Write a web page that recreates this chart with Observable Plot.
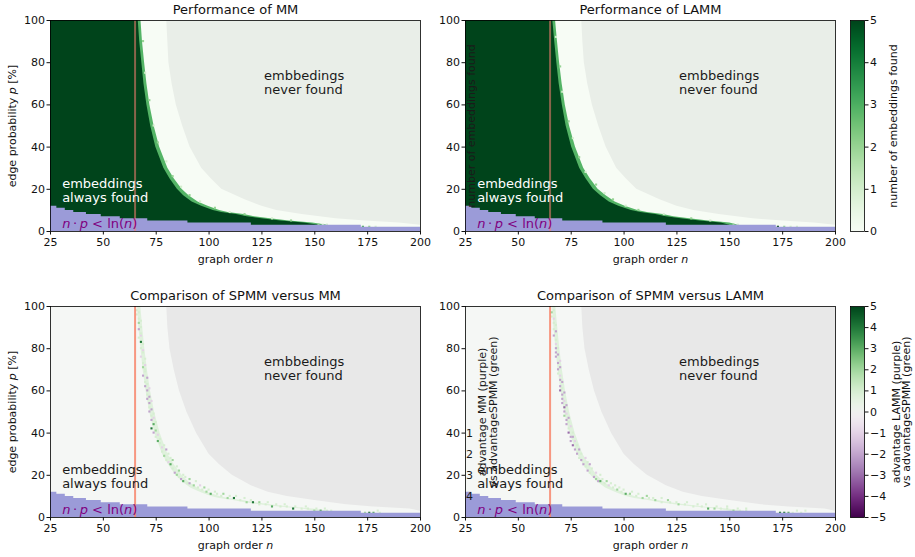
<!DOCTYPE html>
<html>
<head>
<meta charset="utf-8">
<script src="https://cdn.jsdelivr.net/npm/d3@7"></script>
<script src="https://cdn.jsdelivr.net/npm/@observablehq/plot@0.6"></script>
<style>
  html, body { margin: 0; padding: 0; background: #fff; }
  #chart { position: relative; width: 915px; height: 557px; overflow: hidden; font-family: "DejaVu Sans", sans-serif; }
  #chart svg { position: absolute; max-width: none; }
</style>
</head>
<body>
<div id="chart"></div>
<script>
// ---------------- data ----------------
const panelTitles = ["Performance of MM", "Performance of LAMM", "Comparison of SPMM versus MM", "Comparison of SPMM versus LAMM"];
const xTicks = [25, 50, 75, 100, 125, 150, 175, 200];
const yTicks = [0, 20, 40, 60, 80, 100];
const nDomain = [25, 200];
const pDomain = [0, 100];
const thresholdN = [65];

// region n·p < ln(n) (steps)
const blueStartN = [25, 28, 32, 36, 42, 49, 58, 71, 90, 120, 172];
const blueEndN   = [28, 32, 36, 42, 49, 58, 71, 90, 120, 172, 200];
const blueTopP   = [12, 11, 10, 9, 8, 7, 6, 5, 4, 3, 2];

// edge of "embeddings always found" (5 of 5) per edge probability
const darkP      = [2, 3, 4, 5, 6, 7, 8, 9, 10, 12, 14, 17, 20, 25, 30, 40, 50, 60, 70, 80, 90, 100];
const mmDarkN    = [152, 152, 145, 134, 125, 118, 113, 106, 102, 96.5, 92, 88, 85, 81.5, 78.6, 74.8, 72.4, 70.6, 69.2, 68.2, 67.2, 66.5];
const mmFringeN  = [156, 156, 149, 138, 129, 121.5, 116.5, 109, 105, 99.5, 94.8, 90.5, 87.2, 83.5, 80.5, 76.6, 74, 72, 70.6, 69.5, 68.5, 67.8];
const lammDarkN  = [150, 150, 146, 136, 127, 120, 115, 108, 103.5, 97.5, 93, 89, 85.5, 82, 79, 75.2, 72.6, 70.8, 69.3, 68.2, 67.2, 66.3];
const lammFringeN= [154, 154, 150, 140, 131, 123.5, 118.5, 111, 106.5, 100.5, 95.8, 91.5, 87.7, 84, 80.9, 77, 74.2, 72.2, 70.7, 69.5, 68.5, 67.6];
// light band of differences in the comparison panels
const cmpBandLo  = [150, 150, 144, 133, 124, 117, 111.5, 105, 101, 95.8, 91.3, 87.3, 84.3, 80.8, 78, 74.3, 71.9, 70.2, 68.8, 67.8, 66.8, 66.2];
const cmpBandHi  = [157, 157, 149, 138, 129, 122, 116, 109, 105, 99, 94.5, 90.3, 87.2, 83.5, 80.5, 76.8, 74.2, 72.3, 70.8, 69.6, 68.6, 67.7];

// edge of the region where runs were made (beyond: never found)
const whiteP     = [0, 3, 4, 5, 6, 8, 10, 12, 15, 20, 25, 30, 40, 50, 60, 70, 80, 90, 100];
const mmWhiteN   = [200, 200, 190, 174, 160, 144, 132, 125, 117, 106, 101, 96.5, 91, 87.5, 84.5, 82.5, 81, 80.5, 80];
const lammWhiteN = [200, 200, 190, 175, 161, 145, 133, 125, 117, 106, 101, 96.5, 91.5, 88, 85, 82.8, 81.2, 80.5, 80];
const cmpWhiteN  = [200, 200, 195, 178, 165, 150, 137, 128, 120, 111, 105, 100, 94, 89.5, 86, 83.5, 81.5, 80.5, 80];

// isolated cells [n, p, value]
const mmSpeck   = [[152,3,2],[154,3,1],[156,3,1],[173,2,3],[176,2,2],[179,2,1],
  [69,90,2],[70,75,1],[72,62,2],[74,50,1],[76,42,2],[80,33,1],[83,26,2],[87,21,1],[91,17,2],[96,14,1],[103,11,2],[110,9,1],[117,8,2],[130,6,1],[139,5,2]];
const lammSpeck = [[152,3,2],[154,3,1],[173,2,5],[176,2,2],[179,2,1],[182,2,1],
  [68,92,1],[70,78,2],[71,66,1],[74,52,2],[76,44,1],[79,35,2],[82,28,1],[87,22,2],[91,18,1],[95,15,2],[101,12,1],[107,10,2],[119,8,1],[132,6,2],[141,5,1]];
const cmpMMCells = [
  [66,98,1],[66,96,1],[67,94,1],[67,92,2],[67,89,-2],[68,87,1],[67,85,1],[68,83,4],[68,80,1],[69,78,1],
  [68,76,-1],[69,73,1],[69,71,2],[70,69,1],[69,67,-2],[70,64,1],[70,62,-2],[71,60,-2],[71,58,1],[71,56,-2],
  [72,54,-2],[72,52,1],[72,50,-2],[73,48,1],[73,46,-2],[74,44,3],[73,42,4],[74,40,-2],[75,38,1],[76,36,3],
  [77,35,1],[78,33,-1],[78,31,1],[79,29,2],[80,27,1],[81,26,-1],[82,25,3],[83,23,1],[84,21,-2],[85,20,2],
  [86,19,1],[87,18,-2],[88,17,3],[90,16,1],[91,16,-2],[93,15,2],[95,14,1],[97,13,1],[99,12,2],[101,11,3],
  [104,11,1],[106,10,1],[109,9,2],[112,9,4],[115,8,1],[118,7,2],[121,7,4],[124,6,1],[127,6,1],[130,5,3],
  [134,5,1],[137,5,1],[140,4,4],[144,4,1],[147,4,1],[150,3,2],[153,3,3],[156,3,1],[174,2,2],[176,2,4],[178,2,3],[181,2,1]
];
const cmpMMExtra = [
  [67,97,1],[68,93,1],[68,90,1],[68,86,-1],[69,82,1],[69,79,-1],[70,75,1],[70,72,-1],[70,70,1],[71,66,-2],
  [71,63,1],[72,61,-1],[72,57,-2],[73,55,-1],[73,51,-2],[74,49,1],[74,47,-1],[75,45,1],[75,41,2],[76,39,-1],
  [77,37,1],[79,34,1],[80,32,-2],[81,30,1],[82,28,1],[83,27,2],[85,24,1],[86,22,2],[88,20,1],[89,19,1],
  [91,18,2],[94,17,1],[96,15,-1],[98,14,2],[100,13,1],[103,12,1],[107,11,2],[110,10,1],[113,10,1],[117,9,1],
  [120,8,1],[124,7,2],[128,7,1],[132,6,1],[136,6,1],[141,5,1],[146,5,1],[151,4,1],[155,4,1],[158,3,1],[180,3,1]
];
const cmpLAMMCells = [
  [66,97,2],[66,95,1],[67,92,1],[67,89,1],[67,86,-2],[68,84,1],[68,80,-2],[68,78,-2],[68,76,-2],[69,73,-2],
  [69,70,-2],[69,68,1],[70,65,-2],[70,62,-2],[70,60,-3],[71,58,-2],[71,56,-2],[71,54,-2],[72,52,-3],[72,50,-2],
  [72,48,2],[73,46,-2],[73,44,-2],[74,42,1],[74,40,-3],[75,38,-2],[75,36,-2],[76,34,-3],[77,32,-2],[78,30,-2],
  [79,28,1],[80,27,-2],[81,25,-2],[82,24,1],[83,22,-2],[84,21,1],[86,19,-2],[87,18,2],[88,17,-2],[89,17,3],
  [91,16,1],[93,15,-1],[95,14,1],[97,13,2],[99,12,1],[101,11,3],[103,11,2],[106,10,1],[109,9,2],[112,9,1],
  [115,8,2],[118,7,1],[122,7,1],[126,6,2],[129,6,1],[133,5,1],[137,5,1],[140,4,3],[143,4,2],[146,4,1],
  [149,4,1],[152,3,2],[155,3,1],[158,3,1],[174,2,4],[176,2,4],[178,2,3],[180,2,1],[184,2,1]
];
const cmpLAMMExtra = [
  [67,98,1],[67,94,-1],[68,91,1],[68,88,-2],[68,82,-1],[69,80,1],[69,77,-2],[70,74,-1],[70,71,-2],[70,67,-1],
  [71,64,-2],[71,61,1],[72,59,-2],[72,55,-1],[73,53,-2],[73,49,-1],[74,47,-2],[74,45,1],[75,43,-1],[76,40,1],
  [76,38,-2],[77,36,-1],[78,34,1],[79,32,-2],[80,30,1],[82,28,-1],[83,26,1],[84,25,-2],[85,23,1],[87,21,-1],
  [89,20,1],[90,18,1],[92,17,2],[94,16,1],[96,15,1],[98,14,1],[100,13,1],[104,12,1],[107,11,1],[111,10,2],
  [114,9,1],[118,9,1],[121,8,2],[125,7,1],[130,7,1],[135,6,1],[139,6,1],[144,5,1],[149,5,1],[154,4,1],
  [158,4,1],[182,3,1],[186,3,1]
];

// colorbars
const cbPerfTicks = [0, 1, 2, 3, 4, 5];
const cbCmpTicks = [-5, -4, -3, -2, -1, 0, 1, 2, 3, 4, 5];
const cbPerfLabel = "number of embeddings found";
const cbCmpLabel = "advantage LAMM (purple)\nvs advantageSPMM (green)";
// stray labels in the right panels
const strayPerfLabel = "number of embeddings found";
const strayCmpLabel = "advantage MM (purple)\nvs advantageSPMM (green)";
const strayDigits = ["1", "2", "3", "4"];
const strayDigitP = [40, 30, 20, 10];

// ---------------- drawing ----------------
const container = document.getElementById("chart");
const baseStyle = {fontFamily: "DejaVu Sans, sans-serif", fontSize: "11px", color: "#111", background: "transparent", overflow: "visible"};

function italicize(svg) {
  d3.select(svg).selectAll("text, tspan").each(function () {
    if (this.children.length) return;
    const s = this.textContent;
    if (!s.includes("{")) return;
    const parts = s.split(/(\{[^}]*\})/);
    this.textContent = "";
    for (const part of parts) {
      if (!part) continue;
      const t = document.createElementNS("http://www.w3.org/2000/svg", "tspan");
      if (part.startsWith("{")) { t.setAttribute("font-style", "italic"); t.textContent = part.slice(1, -1); }
      else t.textContent = part;
      this.appendChild(t);
    }
  });
}

function place(svg, left, top) {
  svg.style.left = left + "px";
  svg.style.top = top + "px";
  italicize(svg);
  container.appendChild(svg);
}

const blueStep = blueStartN.map((n, i) => ({n, p: blueTopP[i]}))
  .concat([{n: blueEndN[blueEndN.length - 1], p: blueTopP[blueTopP.length - 1]}]);
const rows = (ps, ns) => ps.map((p, i) => ({p, n: ns[i]}));
const cells = arr => arr.map(([n, p, v]) => ({n, p, v}));

function panel(cfg) {
  const perf = cfg.kind === "perf";
  const marks = [
    Plot.frame({fill: perf ? "#e9eee8" : "#e8e8e8"}),
    Plot.areaX(rows(whiteP, cfg.whiteN), {y: "p", x1: nDomain[0], x2: "n", fill: perf ? "#f7fcf5" : "#f5f7f5"})
  ];
  if (perf) {
    marks.push(Plot.areaX(rows(darkP, cfg.fringeN), {y: "p", x1: nDomain[0], x2: "n", fill: d3.interpolateGreens(0.58)}));
    marks.push(Plot.areaX(rows(darkP, cfg.darkN), {y: "p", x1: nDomain[0], x2: "n", fill: d3.interpolateGreens(1)}));
  } else {
    marks.push(Plot.areaX(darkP.map((p, i) => ({p, lo: cmpBandLo[i], hi: cmpBandHi[i]})),
      {y: "p", x1: "lo", x2: "hi", fill: d3.interpolatePRGn(0.6), fillOpacity: 0.7}));
  }
  for (const arr of cfg.cells) {
    marks.push(Plot.rect(cells(arr), {x1: d => d.n - 0.5, x2: d => d.n + 0.5, y1: d => d.p - 0.5, y2: d => d.p + 0.5, fill: "v"}));
  }
  marks.push(
    Plot.areaY(blueStep, {x: "n", y: "p", curve: "step-after", fill: "#9b9bd8"}),
    Plot.ruleX(thresholdN, {stroke: perf ? "#fa8072" : "#f7866c", strokeWidth: 2, strokeOpacity: perf ? 0.55 : 0.85}),
    Plot.text(["embeddings\nalways found"], {x: 30.5, y: 19.4, text: d => d, textAnchor: "start", lineAnchor: "middle", lineHeight: 1.08, fontSize: 13, fill: perf ? "#ffffff" : "#1a1a1a"}),
    Plot.text(["embbedings\nnever found"], {x: 126, y: 70.4, text: d => d, textAnchor: "start", lineAnchor: "middle", lineHeight: 1.08, fontSize: 13, fill: "#1a1a1a"}),
    Plot.text(["{n}\u2009·\u2009{p} < ln({n})"], {x: 30.5, y: 3.6, text: d => d, textAnchor: "start", lineAnchor: "middle", fontSize: 13, fill: "#800080"}),
    Plot.text([cfg.title], {frameAnchor: "top", dy: -11, text: d => d, textAnchor: "middle", lineAnchor: "middle", fontSize: 13, fill: "#111"}),
    Plot.text(["graph order {n}"], {frameAnchor: "bottom", dy: 27.5, text: d => d, textAnchor: "middle", lineAnchor: "middle", fontSize: 11, fill: "#111"}),
    Plot.frame({stroke: "#000", strokeWidth: 0.8}),
    Plot.axisX({ticks: xTicks, tickSize: 3.5, tickPadding: 3, fontSize: 11, label: null}),
    Plot.axisY({ticks: yTicks, tickSize: 3.5, tickPadding: 2, fontSize: 11, label: null})
  );
  if (cfg.ylabel) marks.push(Plot.text(["edge probability {p} [%]"], {frameAnchor: "left", dx: -38, rotate: -90, text: d => d, textAnchor: "middle", lineAnchor: "middle", fontSize: 11, fill: "#111"}));
  if (cfg.stray === "perf") marks.push(Plot.text([strayPerfLabel], {frameAnchor: "left", dx: 6, rotate: -90, text: d => d, textAnchor: "middle", lineAnchor: "middle", fontSize: 11, fill: "#1a1a1a"}));
  if (cfg.stray === "cmp") {
    marks.push(Plot.text([strayCmpLabel], {frameAnchor: "left", dx: 22.5, rotate: -90, text: d => d, textAnchor: "middle", lineAnchor: "middle", lineHeight: 0.95, fontSize: 11, fill: "#1a1a1a"}));
    marks.push(Plot.text(strayDigits.map((t, i) => ({t, p: strayDigitP[i]})), {y: "p", text: "t", frameAnchor: "left", dx: 0.5, textAnchor: "start", lineAnchor: "middle", fontSize: 11, fill: "#1a1a1a"}));
  }
  return Plot.plot({
    width: 440, height: cfg.height,
    marginLeft: 50, marginRight: 20, marginTop: cfg.marginTop, marginBottom: cfg.marginBottom,
    x: {domain: nDomain}, y: {domain: pDomain},
    color: perf ? {type: "linear", scheme: "greens", domain: [0, 5]} : {type: "linear", scheme: "prgn", domain: [-5, 5]},
    style: baseStyle,
    marks
  });
}

function colorbar(cfg) {
  const lo = cfg.ticks[0], hi = cfg.ticks[cfg.ticks.length - 1];
  return Plot.plot({
    width: 75, height: cfg.height,
    marginLeft: 10, marginRight: 51, marginTop: cfg.marginTop, marginBottom: cfg.marginBottom,
    x: {domain: [0, 1], axis: null},
    y: {domain: [lo, hi]},
    color: {type: "linear", scheme: cfg.scheme, domain: [lo, hi]},
    style: baseStyle,
    marks: [
      Plot.raster({fill: (x, y) => y, x1: 0, x2: 1, y1: lo, y2: hi, pixelSize: 1}),
      Plot.frame({stroke: "#000", strokeWidth: 0.8}),
      Plot.axisY({anchor: "right", ticks: cfg.ticks, tickSize: 3.5, tickPadding: 2, fontSize: 11, label: null, tickFormat: d3.format("d")}),
      Plot.text([cfg.label], {frameAnchor: "right", dx: cfg.labelDx, rotate: -90, text: d => d, textAnchor: "middle", lineAnchor: "middle", lineHeight: 0.95, fontSize: 11, fill: "#111"})
    ]
  });
}

const topRow = {height: 278, marginTop: 20, marginBottom: 47};
const botRow = {height: 279, marginTop: 28, marginBottom: 40};

place(panel({...topRow, kind: "perf", title: panelTitles[0], whiteN: mmWhiteN, darkN: mmDarkN, fringeN: mmFringeN, cells: [mmSpeck], ylabel: true}), 0, 0);
place(panel({...topRow, kind: "perf", title: panelTitles[1], whiteN: lammWhiteN, darkN: lammDarkN, fringeN: lammFringeN, cells: [lammSpeck], stray: "perf"}), 415, 0);
place(panel({...botRow, kind: "cmp", title: panelTitles[2], whiteN: cmpWhiteN, cells: [cmpMMExtra, cmpMMCells], ylabel: true}), 0, 278);
place(panel({...botRow, kind: "cmp", title: panelTitles[3], whiteN: cmpWhiteN, cells: [cmpLAMMExtra, cmpLAMMCells], stray: "cmp"}), 415, 278);
place(colorbar({...topRow, ticks: cbPerfTicks, scheme: "greens", label: cbPerfLabel, labelDx: 29}), 840, 0);
place(colorbar({...botRow, ticks: cbCmpTicks, scheme: "prgn", label: cbCmpLabel, labelDx: 37}), 840, 278);
</script>
</body>
</html>
